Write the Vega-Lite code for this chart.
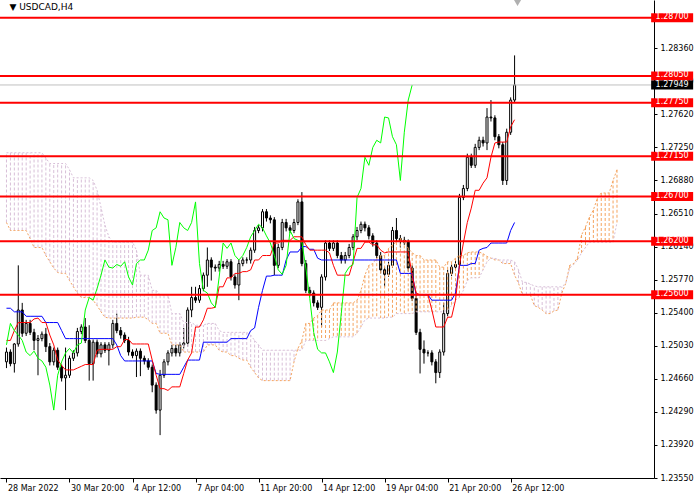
{
  "$schema": "https://vega.github.io/schema/vega-lite/v6.json",
  "description": "USDCAD H4 candles with Ichimoku and support/resistance levels",
  "width": 654,
  "height": 478,
  "autosize": {"type": "none"},
  "padding": {"left": 0, "top": 0, "right": 46, "bottom": 22},
  "background": "white",
  "config": {
    "view": {"stroke": null},
    "font": "DejaVu Sans",
    "axis": {"labelFont": "DejaVu Sans", "labelFontSize": 8, "labelColor": "black", "domainColor": "black", "tickColor": "black", "grid": false, "labelOverlap": false}
  },
  "resolve": {"axis": {"y": "independent"}},
  "datasets": {
    "bars": [
      {"i":0,"open":1.2485,"high":1.2501,"low":1.2478,"close":1.2496,"tenkan":1.2509,"kijun":1.2545,"chikou":1.2504,"spanA":1.2641,"spanB":1.2719},
      {"i":1,"open":1.2496,"high":1.2499,"low":1.2480,"close":1.2483,"tenkan":1.2509,"kijun":1.2545,"chikou":1.2528,"spanA":1.2632,"spanB":1.2719},
      {"i":2,"open":1.2483,"high":1.2506,"low":1.2473,"close":1.2505,"tenkan":1.2520,"kijun":1.2541,"chikou":1.2520,"spanA":1.2632,"spanB":1.2719},
      {"i":3,"open":1.2505,"high":1.2593,"low":1.2502,"close":1.2543,"tenkan":1.2529,"kijun":1.2541,"chikou":1.2515,"spanA":1.2632,"spanB":1.2719},
      {"i":4,"open":1.2543,"high":1.2551,"low":1.2513,"close":1.2517,"tenkan":1.2529,"kijun":1.2541,"chikou":1.2509,"spanA":1.2632,"spanB":1.2719},
      {"i":5,"open":1.2517,"high":1.2532,"low":1.2514,"close":1.2528,"tenkan":1.2529,"kijun":1.2536,"chikou":1.2496,"spanA":1.2632,"spanB":1.2719},
      {"i":6,"open":1.2528,"high":1.2532,"low":1.2515,"close":1.2518,"tenkan":1.2529,"kijun":1.2536,"chikou":1.2492,"spanA":1.2623,"spanB":1.2719},
      {"i":7,"open":1.2518,"high":1.2522,"low":1.2498,"close":1.2509,"tenkan":1.2533,"kijun":1.2536,"chikou":1.2497,"spanA":1.2613,"spanB":1.2719},
      {"i":8,"open":1.2509,"high":1.2515,"low":1.2470,"close":1.2511,"tenkan":1.2534,"kijun":1.2536,"chikou":1.2489,"spanA":1.2613,"spanB":1.2719},
      {"i":9,"open":1.2511,"high":1.2519,"low":1.2508,"close":1.2516,"tenkan":1.2529,"kijun":1.2536,"chikou":1.2486,"spanA":1.2613,"spanB":1.2719},
      {"i":10,"open":1.2516,"high":1.2523,"low":1.2496,"close":1.2502,"tenkan":1.2529,"kijun":1.2529,"chikou":1.2479,"spanA":1.2604,"spanB":1.2713},
      {"i":11,"open":1.2502,"high":1.2506,"low":1.2481,"close":1.2485,"tenkan":1.2515,"kijun":1.2529,"chikou":1.2459,"spanA":1.2597,"spanB":1.2707},
      {"i":12,"open":1.2485,"high":1.2501,"low":1.2481,"close":1.2498,"tenkan":1.2504,"kijun":1.2529,"chikou":1.2431,"spanA":1.2590,"spanB":1.2707},
      {"i":13,"open":1.2498,"high":1.2501,"low":1.2476,"close":1.2479,"tenkan":1.2487,"kijun":1.2529,"chikou":1.2470,"spanA":1.2585,"spanB":1.2707},
      {"i":14,"open":1.2479,"high":1.2482,"low":1.2463,"close":1.2467,"tenkan":1.2481,"kijun":1.2520,"chikou":1.2485,"spanA":1.2584,"spanB":1.2707},
      {"i":15,"open":1.2467,"high":1.2501,"low":1.2431,"close":1.2470,"tenkan":1.2476,"kijun":1.2511,"chikou":1.2495,"spanA":1.2584,"spanB":1.2707},
      {"i":16,"open":1.2470,"high":1.2492,"low":1.2467,"close":1.2489,"tenkan":1.2476,"kijun":1.2511,"chikou":1.2500,"spanA":1.2576,"spanB":1.2700},
      {"i":17,"open":1.2489,"high":1.2498,"low":1.2486,"close":1.2495,"tenkan":1.2476,"kijun":1.2511,"chikou":1.2495,"spanA":1.2569,"spanB":1.2691},
      {"i":18,"open":1.2495,"high":1.2523,"low":1.2491,"close":1.2519,"tenkan":1.2478,"kijun":1.2511,"chikou":1.2504,"spanA":1.2562,"spanB":1.2691},
      {"i":19,"open":1.2519,"high":1.2527,"low":1.2516,"close":1.2524,"tenkan":1.2480,"kijun":1.2511,"chikou":1.2506,"spanA":1.2557,"spanB":1.2691},
      {"i":20,"open":1.2524,"high":1.2534,"low":1.2506,"close":1.2509,"tenkan":1.2482,"kijun":1.2511,"chikou":1.2543,"spanA":1.2557,"spanB":1.2691},
      {"i":21,"open":1.2509,"high":1.2526,"low":1.2464,"close":1.2483,"tenkan":1.2482,"kijun":1.2511,"chikou":1.2557,"spanA":1.2557,"spanB":1.2691},
      {"i":22,"open":1.2483,"high":1.2510,"low":1.2464,"close":1.2507,"tenkan":1.2482,"kijun":1.2511,"chikou":1.2554,"spanA":1.2554,"spanB":1.2688},
      {"i":23,"open":1.2507,"high":1.2510,"low":1.2490,"close":1.2494,"tenkan":1.2498,"kijun":1.2511,"chikou":1.2567,"spanA":1.2548,"spanB":1.2677},
      {"i":24,"open":1.2494,"high":1.2507,"low":1.2490,"close":1.2504,"tenkan":1.2499,"kijun":1.2511,"chikou":1.2582,"spanA":1.2541,"spanB":1.2658},
      {"i":25,"open":1.2504,"high":1.2507,"low":1.2495,"close":1.2498,"tenkan":1.2499,"kijun":1.2511,"chikou":1.2599,"spanA":1.2535,"spanB":1.2638},
      {"i":26,"open":1.2498,"high":1.2507,"low":1.2481,"close":1.2504,"tenkan":1.2499,"kijun":1.2511,"chikou":1.2591,"spanA":1.2534,"spanB":1.2625},
      {"i":27,"open":1.2504,"high":1.2532,"low":1.2500,"close":1.2528,"tenkan":1.2499,"kijun":1.2511,"chikou":1.2590,"spanA":1.2534,"spanB":1.2619},
      {"i":28,"open":1.2528,"high":1.2539,"low":1.2517,"close":1.2520,"tenkan":1.2502,"kijun":1.2504,"chikou":1.2594,"spanA":1.2534,"spanB":1.2619},
      {"i":29,"open":1.2520,"high":1.2524,"low":1.2511,"close":1.2515,"tenkan":1.2502,"kijun":1.2492,"chikou":1.2592,"spanA":1.2534,"spanB":1.2619},
      {"i":30,"open":1.2515,"high":1.2518,"low":1.2506,"close":1.2509,"tenkan":1.2510,"kijun":1.2486,"chikou":1.2597,"spanA":1.2534,"spanB":1.2619},
      {"i":31,"open":1.2509,"high":1.2513,"low":1.2492,"close":1.2496,"tenkan":1.2510,"kijun":1.2486,"chikou":1.2580,"spanA":1.2534,"spanB":1.2619},
      {"i":32,"open":1.2496,"high":1.2499,"low":1.2489,"close":1.2492,"tenkan":1.2505,"kijun":1.2486,"chikou":1.2571,"spanA":1.2534,"spanB":1.2619},
      {"i":33,"open":1.2492,"high":1.2500,"low":1.2468,"close":1.2497,"tenkan":1.2505,"kijun":1.2486,"chikou":1.2595,"spanA":1.2535,"spanB":1.2610},
      {"i":34,"open":1.2497,"high":1.2500,"low":1.2469,"close":1.2489,"tenkan":1.2505,"kijun":1.2486,"chikou":1.2599,"spanA":1.2535,"spanB":1.2582},
      {"i":35,"open":1.2489,"high":1.2492,"low":1.2482,"close":1.2486,"tenkan":1.2505,"kijun":1.2486,"chikou":1.2599,"spanA":1.2535,"spanB":1.2582},
      {"i":36,"open":1.2486,"high":1.2489,"low":1.2476,"close":1.2479,"tenkan":1.2505,"kijun":1.2486,"chikou":1.2610,"spanA":1.2532,"spanB":1.2582},
      {"i":37,"open":1.2479,"high":1.2482,"low":1.2451,"close":1.2459,"tenkan":1.2487,"kijun":1.2486,"chikou":1.2632,"spanA":1.2528,"spanB":1.2565},
      {"i":38,"open":1.2459,"high":1.2462,"low":1.2427,"close":1.2431,"tenkan":1.2470,"kijun":1.2472,"chikou":1.2635,"spanA":1.2528,"spanB":1.2565},
      {"i":39,"open":1.2431,"high":1.2476,"low":1.2403,"close":1.2470,"tenkan":1.2455,"kijun":1.2471,"chikou":1.2653,"spanA":1.2517,"spanB":1.2560},
      {"i":40,"open":1.2470,"high":1.2488,"low":1.2467,"close":1.2485,"tenkan":1.2455,"kijun":1.2471,"chikou":1.2646,"spanA":1.2517,"spanB":1.2560},
      {"i":41,"open":1.2485,"high":1.2498,"low":1.2481,"close":1.2495,"tenkan":1.2453,"kijun":1.2471,"chikou":1.2644,"spanA":1.2517,"spanB":1.2560},
      {"i":42,"open":1.2495,"high":1.2504,"low":1.2491,"close":1.2500,"tenkan":1.2457,"kijun":1.2471,"chikou":1.2593,"spanA":1.2504,"spanB":1.2539},
      {"i":43,"open":1.2500,"high":1.2504,"low":1.2491,"close":1.2495,"tenkan":1.2457,"kijun":1.2471,"chikou":1.2613,"spanA":1.2504,"spanB":1.2539},
      {"i":44,"open":1.2495,"high":1.2507,"low":1.2491,"close":1.2504,"tenkan":1.2457,"kijun":1.2471,"chikou":1.2641,"spanA":1.2504,"spanB":1.2539},
      {"i":45,"open":1.2504,"high":1.2523,"low":1.2500,"close":1.2506,"tenkan":1.2472,"kijun":1.2479,"chikou":1.2635,"spanA":1.2496,"spanB":1.2529},
      {"i":46,"open":1.2506,"high":1.2546,"low":1.2502,"close":1.2543,"tenkan":1.2487,"kijun":1.2487,"chikou":1.2632,"spanA":1.2496,"spanB":1.2529},
      {"i":47,"open":1.2543,"high":1.2569,"low":1.2535,"close":1.2557,"tenkan":1.2495,"kijun":1.2487,"chikou":1.2641,"spanA":1.2496,"spanB":1.2529},
      {"i":48,"open":1.2557,"high":1.2569,"low":1.2551,"close":1.2554,"tenkan":1.2524,"kijun":1.2487,"chikou":1.2664,"spanA":1.2496,"spanB":1.2526},
      {"i":49,"open":1.2554,"high":1.2571,"low":1.2551,"close":1.2567,"tenkan":1.2524,"kijun":1.2487,"chikou":1.2595,"spanA":1.2496,"spanB":1.2526},
      {"i":50,"open":1.2567,"high":1.2585,"low":1.2564,"close":1.2582,"tenkan":1.2532,"kijun":1.2507,"chikou":1.2565,"spanA":1.2496,"spanB":1.2526},
      {"i":51,"open":1.2582,"high":1.2613,"low":1.2569,"close":1.2599,"tenkan":1.2545,"kijun":1.2507,"chikou":1.2562,"spanA":1.2504,"spanB":1.2528},
      {"i":52,"open":1.2599,"high":1.2602,"low":1.2576,"close":1.2591,"tenkan":1.2545,"kijun":1.2507,"chikou":1.2551,"spanA":1.2504,"spanB":1.2528},
      {"i":53,"open":1.2591,"high":1.2594,"low":1.2586,"close":1.2590,"tenkan":1.2546,"kijun":1.2507,"chikou":1.2546,"spanA":1.2504,"spanB":1.2528},
      {"i":54,"open":1.2590,"high":1.2598,"low":1.2586,"close":1.2594,"tenkan":1.2569,"kijun":1.2507,"chikou":1.2580,"spanA":1.2498,"spanB":1.2520},
      {"i":55,"open":1.2594,"high":1.2598,"low":1.2589,"close":1.2592,"tenkan":1.2569,"kijun":1.2507,"chikou":1.2618,"spanA":1.2496,"spanB":1.2518},
      {"i":56,"open":1.2592,"high":1.2600,"low":1.2589,"close":1.2597,"tenkan":1.2579,"kijun":1.2507,"chikou":1.2612,"spanA":1.2496,"spanB":1.2518},
      {"i":57,"open":1.2597,"high":1.2600,"low":1.2576,"close":1.2580,"tenkan":1.2579,"kijun":1.2511,"chikou":1.2618,"spanA":1.2492,"spanB":1.2518},
      {"i":58,"open":1.2580,"high":1.2583,"low":1.2567,"close":1.2571,"tenkan":1.2584,"kijun":1.2511,"chikou":1.2604,"spanA":1.2492,"spanB":1.2518},
      {"i":59,"open":1.2571,"high":1.2599,"low":1.2554,"close":1.2595,"tenkan":1.2584,"kijun":1.2511,"chikou":1.2599,"spanA":1.2489,"spanB":1.2518},
      {"i":60,"open":1.2595,"high":1.2602,"low":1.2592,"close":1.2599,"tenkan":1.2586,"kijun":1.2511,"chikou":1.2604,"spanA":1.2487,"spanB":1.2518},
      {"i":61,"open":1.2599,"high":1.2602,"low":1.2595,"close":1.2599,"tenkan":1.2586,"kijun":1.2511,"chikou":1.2613,"spanA":1.2487,"spanB":1.2518},
      {"i":62,"open":1.2599,"high":1.2613,"low":1.2595,"close":1.2610,"tenkan":1.2588,"kijun":1.2520,"chikou":1.2625,"spanA":1.2479,"spanB":1.2515},
      {"i":63,"open":1.2610,"high":1.2636,"low":1.2607,"close":1.2632,"tenkan":1.2599,"kijun":1.2523,"chikou":1.2632,"spanA":1.2473,"spanB":1.2509},
      {"i":64,"open":1.2632,"high":1.2638,"low":1.2629,"close":1.2635,"tenkan":1.2599,"kijun":1.2546,"chikou":1.2639,"spanA":1.2467,"spanB":1.2504},
      {"i":65,"open":1.2635,"high":1.2656,"low":1.2631,"close":1.2653,"tenkan":1.2604,"kijun":1.2565,"chikou":1.2635,"spanA":1.2464,"spanB":1.2498},
      {"i":66,"open":1.2653,"high":1.2656,"low":1.2642,"close":1.2646,"tenkan":1.2604,"kijun":1.2581,"chikou":1.2626,"spanA":1.2464,"spanB":1.2498},
      {"i":67,"open":1.2646,"high":1.2649,"low":1.2640,"close":1.2644,"tenkan":1.2604,"kijun":1.2581,"chikou":1.2618,"spanA":1.2464,"spanB":1.2498},
      {"i":68,"open":1.2644,"high":1.2647,"low":1.2582,"close":1.2593,"tenkan":1.2618,"kijun":1.2582,"chikou":1.2604,"spanA":1.2464,"spanB":1.2498},
      {"i":69,"open":1.2593,"high":1.2617,"low":1.2590,"close":1.2613,"tenkan":1.2618,"kijun":1.2582,"chikou":1.2588,"spanA":1.2464,"spanB":1.2498},
      {"i":70,"open":1.2613,"high":1.2645,"low":1.2610,"close":1.2641,"tenkan":1.2621,"kijun":1.2582,"chikou":1.2583,"spanA":1.2464,"spanB":1.2498},
      {"i":71,"open":1.2641,"high":1.2645,"low":1.2631,"close":1.2635,"tenkan":1.2621,"kijun":1.2599,"chikou":1.2593,"spanA":1.2464,"spanB":1.2498},
      {"i":72,"open":1.2635,"high":1.2638,"low":1.2629,"close":1.2632,"tenkan":1.2621,"kijun":1.2608,"chikou":1.2632,"spanA":1.2464,"spanB":1.2498},
      {"i":73,"open":1.2632,"high":1.2645,"low":1.2629,"close":1.2641,"tenkan":1.2625,"kijun":1.2608,"chikou":1.2623,"spanA":1.2485,"spanB":1.2498},
      {"i":74,"open":1.2641,"high":1.2667,"low":1.2638,"close":1.2664,"tenkan":1.2625,"kijun":1.2608,"chikou":1.2621,"spanA":1.2500,"spanB":1.2498},
      {"i":75,"open":1.2664,"high":1.2675,"low":1.2592,"close":1.2595,"tenkan":1.2625,"kijun":1.2614,"chikou":1.2619,"spanA":1.2509,"spanB":1.2498},
      {"i":76,"open":1.2595,"high":1.2599,"low":1.2562,"close":1.2565,"tenkan":1.2616,"kijun":1.2614,"chikou":1.2590,"spanA":1.2528,"spanB":1.2509},
      {"i":77,"open":1.2565,"high":1.2569,"low":1.2558,"close":1.2562,"tenkan":1.2610,"kijun":1.2611,"chikou":1.2556,"spanA":1.2528,"spanB":1.2509},
      {"i":78,"open":1.2562,"high":1.2565,"low":1.2547,"close":1.2551,"tenkan":1.2610,"kijun":1.2611,"chikou":1.2518,"spanA":1.2534,"spanB":1.2509},
      {"i":79,"open":1.2551,"high":1.2554,"low":1.2543,"close":1.2546,"tenkan":1.2610,"kijun":1.2601,"chikou":1.2499,"spanA":1.2537,"spanB":1.2509},
      {"i":80,"open":1.2546,"high":1.2583,"low":1.2524,"close":1.2580,"tenkan":1.2610,"kijun":1.2599,"chikou":1.2495,"spanA":1.2543,"spanB":1.2509},
      {"i":81,"open":1.2580,"high":1.2621,"low":1.2576,"close":1.2618,"tenkan":1.2610,"kijun":1.2599,"chikou":1.2495,"spanA":1.2543,"spanB":1.2509},
      {"i":82,"open":1.2618,"high":1.2621,"low":1.2609,"close":1.2612,"tenkan":1.2607,"kijun":1.2599,"chikou":1.2485,"spanA":1.2543,"spanB":1.2511},
      {"i":83,"open":1.2612,"high":1.2621,"low":1.2609,"close":1.2618,"tenkan":1.2593,"kijun":1.2599,"chikou":1.2473,"spanA":1.2551,"spanB":1.2513},
      {"i":84,"open":1.2618,"high":1.2621,"low":1.2601,"close":1.2604,"tenkan":1.2582,"kijun":1.2599,"chikou":1.2496,"spanA":1.2551,"spanB":1.2513},
      {"i":85,"open":1.2604,"high":1.2608,"low":1.2595,"close":1.2599,"tenkan":1.2582,"kijun":1.2599,"chikou":1.2539,"spanA":1.2551,"spanB":1.2513},
      {"i":86,"open":1.2599,"high":1.2608,"low":1.2595,"close":1.2604,"tenkan":1.2582,"kijun":1.2599,"chikou":1.2584,"spanA":1.2551,"spanB":1.2513},
      {"i":87,"open":1.2604,"high":1.2617,"low":1.2601,"close":1.2613,"tenkan":1.2582,"kijun":1.2599,"chikou":1.2591,"spanA":1.2551,"spanB":1.2513},
      {"i":88,"open":1.2613,"high":1.2628,"low":1.2610,"close":1.2625,"tenkan":1.2597,"kijun":1.2599,"chikou":1.2594,"spanA":1.2551,"spanB":1.2513},
      {"i":89,"open":1.2625,"high":1.2636,"low":1.2621,"close":1.2632,"tenkan":1.2612,"kijun":1.2599,"chikou":1.2669,"spanA":1.2554,"spanB":1.2517},
      {"i":90,"open":1.2632,"high":1.2642,"low":1.2629,"close":1.2639,"tenkan":1.2612,"kijun":1.2599,"chikou":1.2679,"spanA":1.2565,"spanB":1.2524},
      {"i":91,"open":1.2639,"high":1.2642,"low":1.2631,"close":1.2635,"tenkan":1.2619,"kijun":1.2599,"chikou":1.2714,"spanA":1.2582,"spanB":1.2532},
      {"i":92,"open":1.2635,"high":1.2638,"low":1.2622,"close":1.2626,"tenkan":1.2619,"kijun":1.2599,"chikou":1.2705,"spanA":1.2593,"spanB":1.2534},
      {"i":93,"open":1.2626,"high":1.2629,"low":1.2614,"close":1.2618,"tenkan":1.2616,"kijun":1.2599,"chikou":1.2725,"spanA":1.2595,"spanB":1.2534},
      {"i":94,"open":1.2618,"high":1.2621,"low":1.2601,"close":1.2604,"tenkan":1.2616,"kijun":1.2599,"chikou":1.2733,"spanA":1.2601,"spanB":1.2534},
      {"i":95,"open":1.2604,"high":1.2608,"low":1.2584,"close":1.2588,"tenkan":1.2610,"kijun":1.2599,"chikou":1.2730,"spanA":1.2604,"spanB":1.2534},
      {"i":96,"open":1.2588,"high":1.2591,"low":1.2569,"close":1.2583,"tenkan":1.2607,"kijun":1.2599,"chikou":1.2759,"spanA":1.2604,"spanB":1.2534},
      {"i":97,"open":1.2583,"high":1.2597,"low":1.2580,"close":1.2593,"tenkan":1.2608,"kijun":1.2599,"chikou":1.2758,"spanA":1.2612,"spanB":1.2535},
      {"i":98,"open":1.2593,"high":1.2636,"low":1.2590,"close":1.2632,"tenkan":1.2608,"kijun":1.2599,"chikou":1.2737,"spanA":1.2616,"spanB":1.2535},
      {"i":99,"open":1.2632,"high":1.2646,"low":1.2619,"close":1.2623,"tenkan":1.2608,"kijun":1.2599,"chikou":1.2728,"spanA":1.2619,"spanB":1.2539},
      {"i":100,"open":1.2623,"high":1.2627,"low":1.2613,"close":1.2621,"tenkan":1.2608,"kijun":1.2584,"chikou":1.2688,"spanA":1.2623,"spanB":1.2539},
      {"i":101,"open":1.2621,"high":1.2625,"low":1.2616,"close":1.2619,"tenkan":1.2608,"kijun":1.2584,"chikou":1.2742,"spanA":1.2621,"spanB":1.2539},
      {"i":102,"open":1.2619,"high":1.2622,"low":1.2586,"close":1.2590,"tenkan":1.2608,"kijun":1.2584,"chikou":1.2778,"spanA":1.2612,"spanB":1.2539},
      {"i":103,"open":1.2590,"high":1.2593,"low":1.2553,"close":1.2556,"tenkan":1.2582,"kijun":1.2584,"chikou":1.27949,"spanA":1.2607,"spanB":1.2539},
      {"i":104,"open":1.2556,"high":1.2560,"low":1.2515,"close":1.2518,"tenkan":1.2562,"kijun":1.2560,"spanA":1.2604,"spanB":1.2541},
      {"i":105,"open":1.2518,"high":1.2522,"low":1.2472,"close":1.2499,"tenkan":1.2560,"kijun":1.2560,"spanA":1.2604,"spanB":1.2541},
      {"i":106,"open":1.2499,"high":1.2509,"low":1.2483,"close":1.2495,"tenkan":1.2560,"kijun":1.2560,"spanA":1.2599,"spanB":1.2541},
      {"i":107,"open":1.2495,"high":1.2498,"low":1.2491,"close":1.2495,"tenkan":1.2560,"kijun":1.2560,"spanA":1.2599,"spanB":1.2541},
      {"i":108,"open":1.2495,"high":1.2498,"low":1.2481,"close":1.2485,"tenkan":1.2543,"kijun":1.2554,"spanA":1.2599,"spanB":1.2541},
      {"i":109,"open":1.2485,"high":1.2488,"low":1.2461,"close":1.2473,"tenkan":1.2524,"kijun":1.2554,"spanA":1.2599,"spanB":1.2541},
      {"i":110,"open":1.2473,"high":1.2499,"low":1.2467,"close":1.2496,"tenkan":1.2524,"kijun":1.2554,"spanA":1.2591,"spanB":1.2541},
      {"i":111,"open":1.2496,"high":1.2551,"low":1.2492,"close":1.2539,"tenkan":1.2524,"kijun":1.2554,"spanA":1.2591,"spanB":1.2541},
      {"i":112,"open":1.2539,"high":1.2588,"low":1.2536,"close":1.2584,"tenkan":1.2535,"kijun":1.2554,"spanA":1.2597,"spanB":1.2543},
      {"i":113,"open":1.2584,"high":1.2594,"low":1.2581,"close":1.2591,"tenkan":1.2535,"kijun":1.2554,"spanA":1.2597,"spanB":1.2548},
      {"i":114,"open":1.2591,"high":1.2598,"low":1.2588,"close":1.2594,"tenkan":1.2554,"kijun":1.2562,"spanA":1.2601,"spanB":1.2554},
      {"i":115,"open":1.2594,"high":1.2673,"low":1.2591,"close":1.2669,"tenkan":1.2593,"kijun":1.2593,"spanA":1.2604,"spanB":1.2557},
      {"i":116,"open":1.2669,"high":1.2683,"low":1.2666,"close":1.2679,"tenkan":1.2618,"kijun":1.2593,"spanA":1.2604,"spanB":1.2565},
      {"i":117,"open":1.2679,"high":1.2718,"low":1.2676,"close":1.2714,"tenkan":1.2641,"kijun":1.2593,"spanA":1.2607,"spanB":1.2576},
      {"i":118,"open":1.2714,"high":1.2718,"low":1.2702,"close":1.2705,"tenkan":1.2657,"kijun":1.2595,"spanA":1.2608,"spanB":1.2579},
      {"i":119,"open":1.2705,"high":1.2729,"low":1.2702,"close":1.2725,"tenkan":1.2677,"kijun":1.2595,"spanA":1.2608,"spanB":1.2579},
      {"i":120,"open":1.2725,"high":1.2737,"low":1.2722,"close":1.2733,"tenkan":1.2677,"kijun":1.2610,"spanA":1.2608,"spanB":1.2579},
      {"i":121,"open":1.2733,"high":1.2737,"low":1.2726,"close":1.2730,"tenkan":1.2685,"kijun":1.2612,"spanA":1.2606,"spanB":1.2588},
      {"i":122,"open":1.2730,"high":1.2769,"low":1.2722,"close":1.2759,"tenkan":1.2691,"kijun":1.2613,"spanA":1.2603,"spanB":1.2597},
      {"i":123,"open":1.2759,"high":1.2778,"low":1.2754,"close":1.2758,"tenkan":1.2714,"kijun":1.2618,"spanA":1.2601,"spanB":1.2601},
      {"i":124,"open":1.2758,"high":1.2761,"low":1.2733,"close":1.2737,"tenkan":1.2730,"kijun":1.2618,"spanA":1.2599,"spanB":1.2601},
      {"i":125,"open":1.2737,"high":1.2740,"low":1.2724,"close":1.2728,"tenkan":1.2731,"kijun":1.2618,"spanA":1.2599,"spanB":1.2599},
      {"i":126,"open":1.2728,"high":1.2731,"low":1.2683,"close":1.2688,"tenkan":1.2731,"kijun":1.2618,"spanA":1.2595,"spanB":1.2599},
      {"i":127,"open":1.2688,"high":1.2746,"low":1.2683,"close":1.2742,"tenkan":1.2731,"kijun":1.2618,"spanA":1.2595,"spanB":1.2599},
      {"i":128,"open":1.2742,"high":1.2781,"low":1.2739,"close":1.2778,"tenkan":1.2748,"kijun":1.2632,"spanA":1.2595,"spanB":1.2599},
      {"i":129,"open":1.2778,"high":1.2828,"low":1.2775,"close":1.27949,"tenkan":1.2756,"kijun":1.2641,"spanA":1.2582,"spanB":1.2597},
      {"i":130,"spanA":1.2573,"spanB":1.2588},
      {"i":131,"spanA":1.2560,"spanB":1.2574},
      {"i":132,"spanA":1.2560,"spanB":1.2574},
      {"i":133,"spanA":1.2560,"spanB":1.2572},
      {"i":134,"spanA":1.2548,"spanB":1.2570},
      {"i":135,"spanA":1.2546,"spanB":1.2569},
      {"i":136,"spanA":1.2543,"spanB":1.2569},
      {"i":137,"spanA":1.2539,"spanB":1.2569},
      {"i":138,"spanA":1.2539,"spanB":1.2569},
      {"i":139,"spanA":1.2542,"spanB":1.2569},
      {"i":140,"spanA":1.2543,"spanB":1.2569},
      {"i":141,"spanA":1.2562,"spanB":1.2569},
      {"i":142,"spanA":1.2573,"spanB":1.2573},
      {"i":143,"spanA":1.2593,"spanB":1.2590},
      {"i":144,"spanA":1.2595,"spanB":1.2594},
      {"i":145,"spanA":1.2602,"spanB":1.2599},
      {"i":146,"spanA":1.2627,"spanB":1.2607},
      {"i":147,"spanA":1.2636,"spanB":1.2613},
      {"i":148,"spanA":1.2647,"spanB":1.2619},
      {"i":149,"spanA":1.2655,"spanB":1.2619},
      {"i":150,"spanA":1.2668,"spanB":1.2619},
      {"i":151,"spanA":1.2674,"spanB":1.2619},
      {"i":152,"spanA":1.2674,"spanB":1.2619},
      {"i":153,"spanA":1.2674,"spanB":1.2619},
      {"i":154,"spanA":1.2688,"spanB":1.2619},
      {"i":155,"spanA":1.2700,"spanB":1.2641}
    ],
    "levels": [
      {"p": 1.287}, {"p": 1.2805}, {"p": 1.2775}, {"p": 1.2715},
      {"p": 1.267}, {"p": 1.262}, {"p": 1.256}
    ],
    "bid": [{"p": 1.27949}],
    "symbol": [{"name": "▼ USDCAD,H4"}]
  },
  "layer": [
    {
      "data": {"name": "bars"},
      "mark": {"type": "rule", "color": "black", "strokeWidth": 1},
      "encoding": {
        "x": {
          "field": "i", "type": "quantitative", "title": null,
          "scale": {"domain": [-0.375, 163.125], "nice": false, "zero": false},
          "axis": {
            "values": [0, 16, 32, 48, 64, 80, 96, 112, 128],
            "labelExpr": "['28 Mar 2022','30 Mar 20:00','4 Apr 12:00','7 Apr 04:00','11 Apr 20:00','14 Apr 12:00','19 Apr 04:00','21 Apr 20:00','26 Apr 12:00'][datum.value / 16]",
            "labelAlign": "left", "labelOffset": 1, "labelPadding": 2, "tickSize": 4,
            "labelFlush": false, "labelOverlap": false, "labelBound": false
          }
        },
        "y": {
          "field": "low", "type": "quantitative", "title": null,
          "scale": {"domain": [1.2355, 1.289], "nice": false, "zero": false},
          "axis": {
            "orient": "right",
            "values": [1.2355, 1.2392, 1.2429, 1.2466, 1.2503, 1.254, 1.2577, 1.2614, 1.2651, 1.2688, 1.2725, 1.2762, 1.2799, 1.2836],
            "format": ".5f", "tickSize": 3, "labelPadding": 3, "labelFlush": false, "labelOverlap": false
          }
        },
        "y2": {"field": "high"}
      }
    },
    {
      "data": {"name": "bars"},
      "mark": {"type": "bar", "width": 2, "stroke": "black", "strokeWidth": 1},
      "encoding": {
        "x": {"field": "i", "type": "quantitative", "title": null},
        "y": {"field": "open", "type": "quantitative", "axis": null},
        "y2": {"field": "close"},
        "fill": {"condition": {"test": "datum.close >= datum.open", "value": "white"}, "value": "black"}
      }
    },
    {
      "data": {"name": "bars"},
      "mark": {"type": "rule", "strokeWidth": 1, "strokeDash": [3, 2]},
      "encoding": {
        "x": {"field": "i", "type": "quantitative", "title": null},
        "y": {"field": "spanA", "type": "quantitative", "axis": null},
        "y2": {"field": "spanB"},
        "color": {"condition": {"test": "datum.spanA >= datum.spanB", "value": "#F4A460"}, "value": "#D8BFD8"}
      }
    },
    {
      "data": {"name": "bars"},
      "mark": {"type": "line", "color": "#F4A460", "strokeWidth": 1, "strokeDash": [2, 2]},
      "encoding": {
        "x": {"field": "i", "type": "quantitative", "title": null},
        "y": {"field": "spanA", "type": "quantitative", "axis": null}
      }
    },
    {
      "data": {"name": "bars"},
      "mark": {"type": "line", "color": "#D8BFD8", "strokeWidth": 1, "strokeDash": [2, 2]},
      "encoding": {
        "x": {"field": "i", "type": "quantitative", "title": null},
        "y": {"field": "spanB", "type": "quantitative", "axis": null}
      }
    },
    {
      "data": {"name": "bars"},
      "mark": {"type": "line", "color": "#0000FF", "strokeWidth": 1},
      "encoding": {
        "x": {"field": "i", "type": "quantitative", "title": null},
        "y": {"field": "kijun", "type": "quantitative", "axis": null}
      }
    },
    {
      "data": {"name": "bars"},
      "mark": {"type": "line", "color": "#FF0000", "strokeWidth": 1},
      "encoding": {
        "x": {"field": "i", "type": "quantitative", "title": null},
        "y": {"field": "tenkan", "type": "quantitative", "axis": null}
      }
    },
    {
      "data": {"name": "bars"},
      "mark": {"type": "line", "color": "#00FF00", "strokeWidth": 1},
      "encoding": {
        "x": {"field": "i", "type": "quantitative", "title": null},
        "y": {"field": "chikou", "type": "quantitative", "axis": null}
      }
    },
    {
      "data": {"name": "levels"},
      "mark": {"type": "rule", "color": "#FF0000", "strokeWidth": 2},
      "encoding": {
        "y": {"field": "p", "type": "quantitative", "axis": null}
      }
    },
    {
      "data": {"name": "bid"},
      "mark": {"type": "rule", "color": "#C0C0C0", "strokeWidth": 1},
      "encoding": {
        "y": {"field": "p", "type": "quantitative", "axis": null}
      }
    },
    {
      "data": {"name": "levels"},
      "mark": {"type": "tick", "orient": "horizontal", "thickness": 9, "color": "#FF0000", "opacity": 1, "clip": false},
      "encoding": {
        "x": {"datum": 169},
        "y": {"field": "p", "type": "quantitative", "axis": null},
        "size": {"value": 42}
      }
    },
    {
      "data": {"name": "levels"},
      "mark": {"type": "text", "color": "white", "font": "DejaVu Sans", "fontSize": 8, "align": "center", "baseline": "middle", "dy": -0.5, "clip": false},
      "encoding": {
        "x": {"datum": 169},
        "y": {"field": "p", "type": "quantitative", "axis": null},
        "text": {"field": "p", "type": "quantitative", "format": ".5f"}
      }
    },
    {
      "data": {"name": "bid"},
      "mark": {"type": "tick", "orient": "horizontal", "thickness": 9, "color": "black", "opacity": 1, "clip": false},
      "encoding": {
        "x": {"datum": 169},
        "y": {"field": "p", "type": "quantitative", "axis": null},
        "size": {"value": 42}
      }
    },
    {
      "data": {"name": "bid"},
      "mark": {"type": "text", "color": "white", "font": "DejaVu Sans", "fontSize": 8, "align": "center", "baseline": "middle", "dy": 0.5, "clip": false},
      "encoding": {
        "x": {"datum": 169},
        "y": {"field": "p", "type": "quantitative", "axis": null},
        "text": {"field": "p", "type": "quantitative", "format": ".5f"}
      }
    },
    {
      "data": {"name": "symbol"},
      "mark": {"type": "text", "color": "black", "font": "DejaVu Sans", "fontSize": 9, "align": "left", "baseline": "middle", "clip": false},
      "encoding": {
        "x": {"datum": 0.75},
        "y": {"datum": 1.2882, "axis": null},
        "text": {"field": "name"}
      }
    },
    {
      "data": {"name": "symbol"},
      "mark": {"type": "point", "shape": "triangle-down", "filled": true, "color": "#B0B0B0", "opacity": 1, "size": 50, "clip": false},
      "encoding": {
        "x": {"datum": 129.75},
        "y": {"datum": 1.28866, "axis": null}
      }
    }
  ]
}
